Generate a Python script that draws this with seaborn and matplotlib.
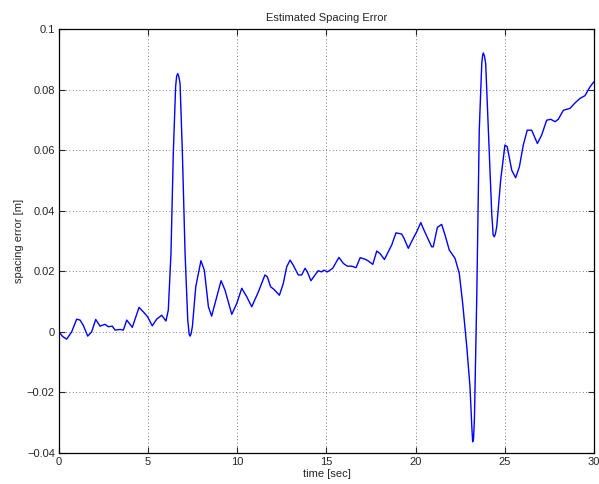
import matplotlib
matplotlib.use('Agg')
import matplotlib.pyplot as plt
import seaborn as sns
import pandas as pd

# tiempo [s] y error de espaciado [m]
tiempo = [0.0, 0.2, 0.43, 0.71, 0.99, 1.18, 1.36, 1.61, 1.83, 2.06, 2.3, 2.58, 2.77, 2.99,
          3.14, 3.42, 3.61, 3.8, 4.11, 4.49, 4.73, 4.97, 5.23, 5.48, 5.76, 6.0, 6.13,
          6.28, 6.41, 6.54, 6.6, 6.66, 6.72, 6.79, 6.92, 7.07, 7.22, 7.3, 7.35, 7.4, 7.48,
          7.67, 7.96, 8.15, 8.38, 8.56, 8.85, 9.09, 9.31, 9.69, 9.97, 10.25, 10.53, 10.81,
          11.18, 11.55, 11.68, 11.87, 12.06, 12.36, 12.58, 12.77, 12.96, 13.14, 13.42,
          13.61, 13.8, 13.93, 14.13, 14.36, 14.54, 14.73, 14.86, 15.05, 15.35, 15.7,
          15.95, 16.17, 16.42, 16.66, 16.89, 17.17, 17.35, 17.6, 17.82, 18.0, 18.25,
          18.47, 18.66, 18.9, 19.22, 19.35, 19.59, 19.91, 20.06, 20.29, 20.47, 20.9,
          20.99, 21.22, 21.46, 21.65, 21.89, 22.21, 22.45, 22.64, 22.87, 23.05, 23.15,
          23.2, 23.25, 23.3, 23.43, 23.57, 23.71, 23.76, 23.8, 23.86, 23.93, 24.08,
          24.27, 24.35, 24.41, 24.47, 24.55, 24.77, 25.01, 25.14, 25.39, 25.61, 25.82,
          26.04, 26.26, 26.51, 26.83, 27.07, 27.35, 27.58, 27.82, 28.0, 28.29, 28.47,
          28.66, 28.94, 29.22, 29.5, 29.78, 30.0]
error = [0.0, -0.0015, -0.0024, 0.0, 0.0042, 0.0039, 0.0022, -0.0014, 0.0, 0.0041, 0.0019,
         0.0025, 0.0017, 0.0019, 0.0006, 0.0008, 0.0006, 0.0039, 0.0015, 0.0081, 0.0066,
         0.005, 0.002, 0.0042, 0.0055, 0.0036, 0.0072, 0.0259, 0.0589, 0.081, 0.0845,
         0.0853, 0.0843, 0.082, 0.059, 0.026, 0.004, -0.0008, -0.0014, -0.0008, 0.0017,
         0.0149, 0.0235, 0.0204, 0.0083, 0.0052, 0.0116, 0.0169, 0.0138, 0.0058, 0.0094,
         0.0144, 0.0116, 0.0083, 0.0132, 0.0188, 0.0182, 0.0149, 0.014, 0.0121, 0.016,
         0.0215, 0.0237, 0.022, 0.0188, 0.0188, 0.021, 0.0198, 0.0169, 0.0188, 0.0202,
         0.0198, 0.0204, 0.0198, 0.021, 0.0246, 0.0226, 0.0217, 0.0217, 0.0212, 0.0245,
         0.024, 0.0234, 0.0223, 0.0267, 0.0259, 0.0239, 0.0265, 0.0287, 0.0327, 0.0323,
         0.0309, 0.0276, 0.0314, 0.033, 0.0361, 0.0336, 0.0281, 0.0281, 0.0345, 0.0355,
         0.032, 0.027, 0.0243, 0.0193, 0.0094, -0.0049, -0.0181, -0.031, -0.0363, -0.0352,
         -0.0285, 0.0116, 0.0666, 0.0886, 0.0914, 0.0921, 0.0911, 0.0886, 0.0666, 0.0391,
         0.032, 0.0314, 0.0322, 0.0347, 0.0501, 0.0617, 0.0611, 0.0534, 0.0509, 0.0545,
         0.0617, 0.0666, 0.0666, 0.0622, 0.065, 0.0699, 0.0702, 0.0694, 0.0702, 0.0732,
         0.0735, 0.0738, 0.0756, 0.0771, 0.078, 0.0809, 0.0826]

xticks = [0, 5, 10, 15, 20, 25, 30]
yticks = [-0.04, -0.02, 0, 0.02, 0.04, 0.06, 0.08, 0.1]
ylabels = ['\u22120.04', '\u22120.02', '0', '0.02', '0.04', '0.06', '0.08', '0.1']

df = pd.DataFrame({'tiempo': tiempo, 'error': error})

sns.set_style('ticks')
plt.rcParams['font.family'] = ['Liberation Sans', 'DejaVu Sans']
plt.rcParams['font.size'] = 8

fig = plt.figure(figsize=(5.99, 4.84), dpi=100)
ax = fig.add_axes([0.0985, 0.064, 0.893, 0.876])
sns.lineplot(data=df, x='tiempo', y='error', color='#0000ff', linewidth=1.0,
             sort=False, estimator=None, ax=ax)

ax.set_xlim(0, 30)
ax.set_ylim(-0.04, 0.1)
ax.set_xticks(xticks)
ax.set_xticklabels([str(x) for x in xticks])
ax.set_yticks(yticks)
ax.set_yticklabels(ylabels)
ax.grid(True, linestyle=(0, (1, 3)), color='#555555', linewidth=0.6)
ax.tick_params(direction='in', top=True, right=True, length=4, width=0.8,
               labelsize=8, pad=3)
for s in ax.spines.values():
    s.set_linewidth(0.9)
    s.set_color('black')

ax.set_title('Estimated Spacing Error', fontsize=8, pad=6)
ax.set_xlabel('time [sec]', fontsize=8, labelpad=1)
ax.set_ylabel('spacing error [m]', fontsize=8, labelpad=2)

fig.savefig('out.png', dpi=100)
